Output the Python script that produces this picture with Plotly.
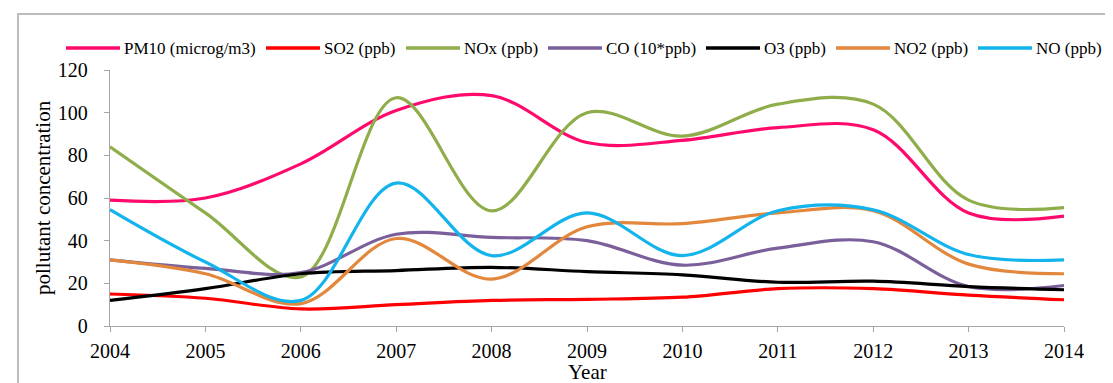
import plotly.graph_objects as go

# ---------------- data ----------------
years = [2004, 2005, 2006, 2007, 2008, 2009, 2010, 2011, 2012, 2013, 2014]
series_names = ["PM10 (microg/m3)", "SO2 (ppb)", "NOx (ppb)", "CO (10*ppb)",
                "O3 (ppb)", "NO2 (ppb)", "NO (ppb)"]
pm10 = [59, 60, 76, 101, 108, 86, 87, 93, 92, 53, 51.5]
so2 = [15, 13, 8, 10, 12, 12.5, 13.5, 17.5, 17.5, 14.5, 12.3]
nox = [84, 53, 23, 107, 54, 100, 89, 104, 104, 59, 55.5]
co = [31, 27, 25, 43, 41.5, 40, 28.5, 36.5, 39.5, 18.5, 19]
o3 = [12, 17.5, 24.5, 26, 27.5, 25.5, 24, 20.5, 21, 18.5, 17]
no2 = [31, 24.5, 10.5, 41, 22, 46.5, 48, 53, 54, 29, 24.5]
no = [54.5, 30, 12, 67, 33, 53, 33, 54, 54.5, 33.5, 31]
y_ticks = [0, 20, 40, 60, 80, 100, 120]
x_title = "Year"
y_title = "pollutant concentration"

# ---------------- style / layout ----------------
colors = ["#FF0A6C", "#FF0000", "#8FAD4A", "#7A5F9A", "#000000", "#E2873C", "#13B4EC"]
W, H = 1113, 383
L, R, T, B = 102, 57, 62, 65
PW, PH = W - L - R, H - T - B
FONT = "Liberation Serif"
AXIS_COLOR = "#A6A6A6"

# legend layout (pixel x of line-sample start for each item)
legend_x = [58, 258, 398, 540, 698, 828, 970]
legend_y = 40
sample_len = 54


def px_to_paper_x(px):
    return (px - L) / PW


def px_to_paper_y(py):
    return (H - B - py) / PH


fig = go.Figure()
all_series = [pm10, so2, nox, co, o3, no2, no]
for name, vals, col in zip(series_names, all_series, colors):
    fig.add_trace(go.Scatter(
        x=years, y=vals, name=name, mode="lines",
        line=dict(color=col, width=3.2, shape="spline", smoothing=1.0),
        showlegend=False, hoverinfo="x+y+name",
    ))

shapes = []
annotations = []
# outer border
shapes.append(dict(type="rect", xref="paper", yref="paper",
                   x0=px_to_paper_x(10), x1=px_to_paper_x(1108),
                   y0=px_to_paper_y(400), y1=px_to_paper_y(6),
                   line=dict(color="#BDBDBD", width=2), fillcolor="rgba(0,0,0,0)",
                   layer="below"))
# manual legend
for name, col, lx in zip(series_names, colors, legend_x):
    shapes.append(dict(type="line", xref="paper", yref="paper",
                       x0=px_to_paper_x(lx), x1=px_to_paper_x(lx + sample_len),
                       y0=px_to_paper_y(legend_y), y1=px_to_paper_y(legend_y),
                       line=dict(color=col, width=3.5)))
    annotations.append(dict(xref="paper", yref="paper",
                            x=px_to_paper_x(lx + sample_len + 2), y=px_to_paper_y(legend_y),
                            text=name, showarrow=False, xanchor="left", yanchor="middle",
                            font=dict(family=FONT, size=17, color="#000000")))
# axis titles
annotations.append(dict(xref="paper", yref="paper", x=0.5, y=px_to_paper_y(364),
                        text=x_title, showarrow=False, xanchor="center", yanchor="middle",
                        font=dict(family=FONT, size=21, color="#000000")))
annotations.append(dict(xref="paper", yref="paper", x=px_to_paper_x(35), y=0.5,
                        text=y_title, showarrow=False, xanchor="center", yanchor="middle",
                        textangle=-90,
                        font=dict(family=FONT, size=21, color="#000000")))

fig.update_layout(
    width=W, height=H,
    margin=dict(l=L, r=R, t=T, b=B, pad=0),
    paper_bgcolor="white", plot_bgcolor="white",
    font=dict(family=FONT, color="#000000"),
    shapes=shapes, annotations=annotations,
    showlegend=False,
)
fig.update_xaxes(
    range=[years[0], years[-1]], tickmode="array", tickvals=years,
    ticktext=[str(y) for y in years],
    showgrid=False, zeroline=False, showline=True, linecolor=AXIS_COLOR, linewidth=1.3,
    ticks="outside", ticklen=5, tickcolor=AXIS_COLOR, tickwidth=1.3,
    tickfont=dict(family=FONT, size=20, color="#000000"),
    ticklabelstandoff=2,
)
fig.update_yaxes(
    range=[0, 120], tickmode="array", tickvals=y_ticks,
    showgrid=False, zeroline=False, showline=True, linecolor=AXIS_COLOR, linewidth=1.3,
    ticks="outside", ticklen=5, tickcolor=AXIS_COLOR, tickwidth=1.3,
    tickfont=dict(family=FONT, size=20, color="#000000"),
    ticklabelstandoff=12,
)

fig.write_html("out.html")
